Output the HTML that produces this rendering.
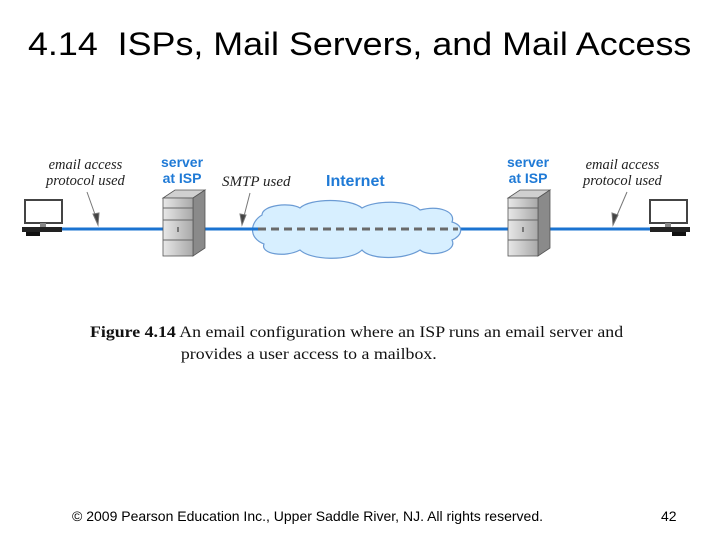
<!DOCTYPE html>
<html><head><style>
body{margin:0;width:720px;height:540px;background:#fff;position:relative;overflow:hidden;font-family:"Liberation Sans",sans-serif}
.t{position:absolute;white-space:nowrap}
</style></head><body>
<div class="t" style="left:28px;top:26px;font-size:32px;color:#000;transform:scaleX(1.12);transform-origin:0 0">4.14&nbsp; ISPs, Mail Servers, and Mail Access</div>
<svg width="720" height="540" style="position:absolute;left:0;top:0">
<defs>
<linearGradient id="sg" x1="0" x2="1"><stop offset="0" stop-color="#e8e8e8"/><stop offset="1" stop-color="#a8a8a8"/></linearGradient>
</defs>
<line x1="60" y1="229" x2="660" y2="229" stroke="#1a73d1" stroke-width="3"/>
<path d="M262,215 C262,205 290,202 300,208 C310,198 350,198 362,208 C375,200 410,200 420,210 C440,205 456,212 452,222 C465,226 462,236 452,240 C458,252 430,258 420,250 C405,260 370,260 362,250 C350,262 310,260 300,250 C285,258 260,254 264,244 C248,238 250,222 262,215 Z" fill="#d7efff" stroke="#6b9bd4" stroke-width="1.2"/>
<line x1="258" y1="229" x2="458" y2="229" stroke="#6a6a6a" stroke-width="3" stroke-dasharray="8,5"/>
<line x1="252" y1="229" x2="258" y2="229" stroke="#1a73d1" stroke-width="3"/>
<g transform="translate(163,190)">
<polygon points="0,8 30,8 42,0 12,0" fill="#d0d0d0" stroke="#555" stroke-width="0.8"/>
<polygon points="30,8 42,0 42,58 30,66" fill="#8a8a8a" stroke="#555" stroke-width="0.8"/>
<rect x="0" y="8" width="30" height="58" fill="url(#sg)" stroke="#555" stroke-width="0.8"/>
<line x1="0" y1="18" x2="30" y2="18" stroke="#666"/><line x1="0" y1="30" x2="30" y2="30" stroke="#666"/><line x1="0" y1="50" x2="30" y2="50" stroke="#666"/>
<rect x="14" y="37" width="2" height="5" fill="#777"/>
</g>
<g transform="translate(508,190)">
<polygon points="0,8 30,8 42,0 12,0" fill="#d0d0d0" stroke="#555" stroke-width="0.8"/>
<polygon points="30,8 42,0 42,58 30,66" fill="#8a8a8a" stroke="#555" stroke-width="0.8"/>
<rect x="0" y="8" width="30" height="58" fill="url(#sg)" stroke="#555" stroke-width="0.8"/>
<line x1="0" y1="18" x2="30" y2="18" stroke="#666"/><line x1="0" y1="30" x2="30" y2="30" stroke="#666"/><line x1="0" y1="50" x2="30" y2="50" stroke="#666"/>
<rect x="14" y="37" width="2" height="5" fill="#777"/>
</g>
<g transform="translate(22,200)">
<rect x="3" y="0" width="37" height="23" fill="#fff" stroke="#444" stroke-width="2"/>
<rect x="18" y="23" width="6" height="4" fill="#888"/>
<rect x="0" y="27" width="40" height="5" fill="#222"/>
<rect x="4" y="32" width="14" height="4" fill="#111"/>
</g>
<g transform="translate(650,200)">
<rect x="0" y="0" width="37" height="23" fill="#fff" stroke="#444" stroke-width="2"/>
<rect x="15" y="23" width="6" height="4" fill="#888"/>
<rect x="0" y="27" width="40" height="5" fill="#222"/>
<rect x="22" y="32" width="14" height="4" fill="#111"/>
</g>
<g stroke="#777" stroke-width="1" fill="#444">
<line x1="87" y1="192" x2="97" y2="220"/><polygon points="93,214 99,213 98,225"/>
<line x1="250" y1="193" x2="243" y2="220"/><polygon points="240,214 246,215 242,225"/>
<line x1="627" y1="192" x2="615" y2="220"/><polygon points="612,213 618,215 613,225"/>
</g>
</svg>
<div class="t" style="left:46px;top:157px;font:italic 14.5px 'Liberation Serif',serif;color:#222;line-height:16px;text-align:center">email access<br>protocol used</div>
<div class="t" style="left:161px;top:154px;font:bold 14px 'Liberation Sans',sans-serif;color:#1f7ad6;line-height:16px;text-align:center">server<br>at ISP</div>
<div class="t" style="left:222px;top:174px;font:italic 15px 'Liberation Serif',serif;color:#222">SMTP used</div>
<div class="t" style="left:326px;top:173px;font:bold 16px 'Liberation Sans',sans-serif;color:#1f7ad6">Internet</div>
<div class="t" style="left:507px;top:154px;font:bold 14px 'Liberation Sans',sans-serif;color:#1f7ad6;line-height:16px;text-align:center">server<br>at ISP</div>
<div class="t" style="left:583px;top:157px;font:italic 14.5px 'Liberation Serif',serif;color:#222;line-height:16px;text-align:center">email access<br>protocol used</div>
<div class="t" style="left:90px;top:322px;font:15.5px 'Liberation Serif',serif;color:#111;line-height:22px;transform:scaleX(1.15);transform-origin:0 0"><b>Figure 4.14</b> An email configuration where an ISP runs an email server and<br><span style="padding-left:79px">provides a user access to a mailbox.</span></div>
<div class="t" style="left:72px;top:508px;font-size:14px;color:#000">© 2009 Pearson Education Inc., Upper Saddle River, NJ. All rights reserved.</div>
<div class="t" style="left:661px;top:508px;font-size:14px;color:#000">42</div>
</body></html>
